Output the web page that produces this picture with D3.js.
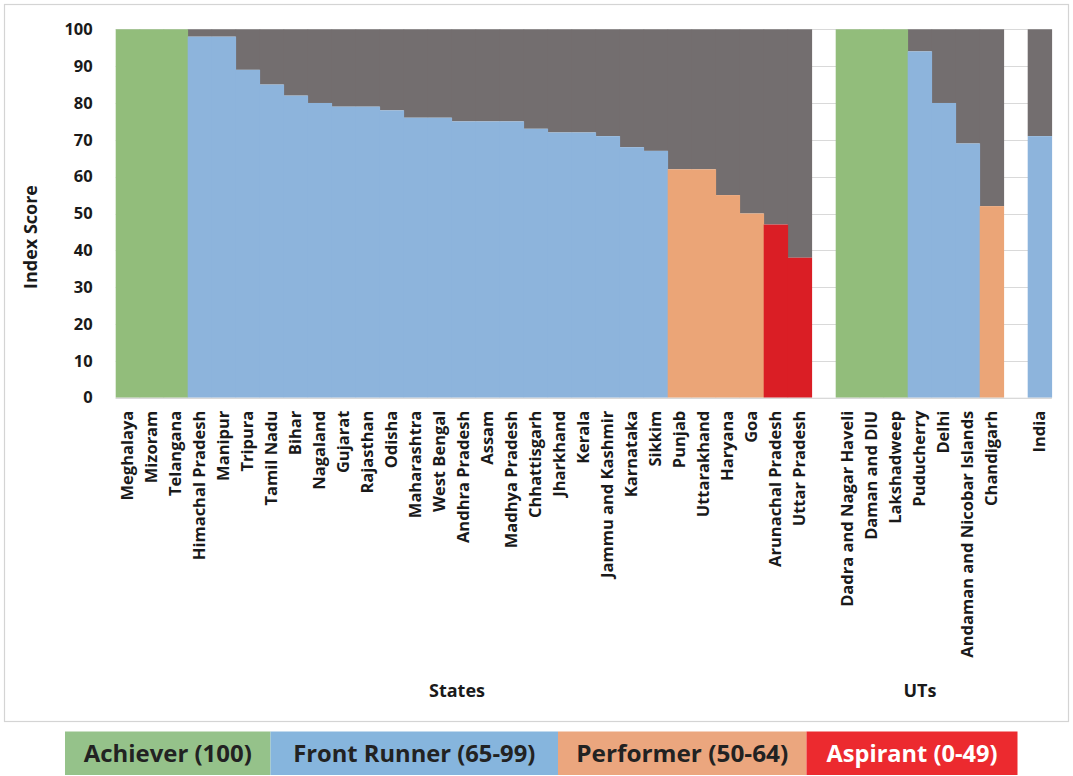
<!DOCTYPE html>
<html>
<head>
<meta charset="utf-8">
<script src="https://cdn.jsdelivr.net/npm/d3@7"></script>
<style>
  html, body { margin: 0; padding: 0; background: #fff; }
  svg { display: block; }
  text { font-family: "Open Sans", "Liberation Sans", sans-serif; fill: #1a1a1a; }
</style>
</head>
<body>
<svg id="chart" width="1073" height="776"></svg>
<script>
// States, in ranked order, with their index scores
const states = ["Meghalaya", "Mizoram", "Telangana", "Himachal Pradesh", "Manipur", "Tripura",
  "Tamil Nadu", "Bihar", "Nagaland", "Gujarat", "Rajasthan", "Odisha", "Maharashtra",
  "West Bengal", "Andhra Pradesh", "Assam", "Madhya Pradesh", "Chhattisgarh", "Jharkhand",
  "Kerala", "Jammu and Kashmir", "Karnataka", "Sikkim", "Punjab", "Uttarakhand", "Haryana",
  "Goa", "Arunachal Pradesh", "Uttar Pradesh"];
const stateScores = [100, 100, 100, 98, 98, 89, 85, 82, 80, 79, 79, 78, 76, 76, 75, 75, 75,
  73, 72, 72, 71, 68, 67, 62, 62, 55, 50, 47, 38];

// Union Territories
const uts = ["Dadra and Nagar Haveli", "Daman and DIU", "Lakshadweep", "Puducherry", "Delhi",
  "Andaman and Nicobar Islands", "Chandigarh"];
const utScores = [100, 100, 100, 94, 80, 69, 52];

// National figure
const nation = ["India"];
const nationScores = [71];

const yTicks = [0, 10, 20, 30, 40, 50, 60, 70, 80, 90, 100];

// Performance bands
const bandNames = ["Achiever (100)", "Front Runner (65-99)", "Performer (50-64)", "Aspirant (0-49)"];
const bandColors = ["#92bd7b", "#8db4dc", "#eba577", "#da1e25"];
const legendColors = ["#95c28a", "#86b5dd", "#eba67e", "#ec2a2f"];
const legendTextColors = ["#222222", "#222222", "#222222", "#ffffff"];
const remainderColor = "#736e6f";

function bandOf(v) {
  if (v >= 100) return 0;
  if (v >= 65) return 1;
  if (v >= 50) return 2;
  return 3;
}

const GAP1 = "__gap1", GAP2 = "__gap2";
const rows = [];
states.forEach((n, i) => rows.push({ name: n, value: stateScores[i] }));
uts.forEach((n, i) => rows.push({ name: n, value: utScores[i] }));
nation.forEach((n, i) => rows.push({ name: n, value: nationScores[i] }));

const domain = [...states, GAP1, ...uts, GAP2, ...nation];

const svg = d3.select("#chart");
const plot = { left: 115.7, right: 1051.7, top: 29.3, bottom: 397.7 };

// outer frame
svg.append("rect")
  .attr("x", 4.5).attr("y", 4.5).attr("width", 1064).attr("height", 717)
  .attr("fill", "#fff").attr("stroke", "#d4d4d4").attr("stroke-width", 1.2);

const x = d3.scaleBand().domain(domain).range([plot.left, plot.right]).padding(0);
const y = d3.scaleLinear().domain([0, 100]).range([plot.bottom, plot.top]);

// horizontal gridlines
svg.append("g")
  .selectAll("line").data(yTicks).join("line")
  .attr("x1", plot.left).attr("x2", plot.right)
  .attr("y1", d => Math.round(y(d)) + 0.5).attr("y2", d => Math.round(y(d)) + 0.5)
  .attr("stroke", "#d9d9d9").attr("stroke-width", 1);

// remainder up to 100
svg.append("g")
  .selectAll("rect").data(rows).join("rect")
  .attr("x", d => x(d.name)).attr("width", x.bandwidth() + 0.4)
  .attr("y", y(100)).attr("height", d => y(d.value) - y(100))
  .attr("fill", remainderColor);

// score bars
svg.append("g")
  .selectAll("rect").data(rows).join("rect")
  .attr("x", d => x(d.name)).attr("width", x.bandwidth() + 0.4)
  .attr("y", d => y(d.value)).attr("height", d => y(0) - y(d.value))
  .attr("fill", d => bandColors[bandOf(d.value)]);

// y axis labels
const yAxis = d3.axisLeft(y).tickValues(yTicks).tickSize(0).tickPadding(23);
const gy = svg.append("g").attr("transform", `translate(${plot.left},0)`).call(yAxis);
gy.select(".domain").remove();
gy.selectAll("text")
  .attr("font-family", "'Open Sans', sans-serif")
  .attr("font-size", 16.5).attr("font-weight", 700).attr("fill", "#1a1a1a");

// x axis labels, rotated
const xAxis = d3.axisBottom(x).tickSize(0).tickPadding(0)
  .tickFormat(d => d.startsWith("__") ? "" : d);
const gx = svg.append("g").attr("transform", `translate(0,${plot.bottom})`).call(xAxis);
gx.select(".domain").attr("stroke", "#d9d9d9").attr("d", `M${plot.left},0.5H${plot.right}`);
gx.selectAll("text")
  .attr("font-family", "'Open Sans', sans-serif")
  .attr("font-size", 16.5).attr("font-weight", 700).attr("fill", "#1a1a1a")
  .attr("text-anchor", "end")
  .attr("dy", "0.35em")
  .attr("transform", "translate(0,13) rotate(-90)")
  .attr("x", 0).attr("y", 0);

// axis titles
svg.append("text")
  .attr("transform", "translate(37,237) rotate(-90)")
  .attr("text-anchor", "middle")
  .attr("font-size", 18).attr("font-weight", 700)
  .text("Index Score");

svg.append("text")
  .attr("x", 457).attr("y", 697).attr("text-anchor", "middle")
  .attr("font-size", 18).attr("font-weight", 700)
  .text("States");

svg.append("text")
  .attr("x", 920).attr("y", 697).attr("text-anchor", "middle")
  .attr("font-size", 18).attr("font-weight", 700)
  .text("UTs");

// legend strip
const legendEdges = [65, 270.5, 558, 806.5, 1017.5];
const legendTextWidths = [168, 242, 212, 171];
const lg = svg.append("g");
bandNames.forEach((name, i) => {
  lg.append("rect")
    .attr("x", legendEdges[i]).attr("y", 731.5)
    .attr("width", legendEdges[i + 1] - legendEdges[i]).attr("height", 43.5)
    .attr("fill", legendColors[i]);
  lg.append("text")
    .attr("x", (legendEdges[i] + legendEdges[i + 1]) / 2).attr("y", 754)
    .attr("dy", "0.35em").attr("text-anchor", "middle")
    .attr("font-family", "'Open Sans', sans-serif")
    .attr("font-size", 23).attr("font-weight", 700)
    .attr("textLength", legendTextWidths[i])
    .attr("lengthAdjust", "spacingAndGlyphs")
    .style("fill", legendTextColors[i])
    .text(name);
});
</script>
</body>
</html>
